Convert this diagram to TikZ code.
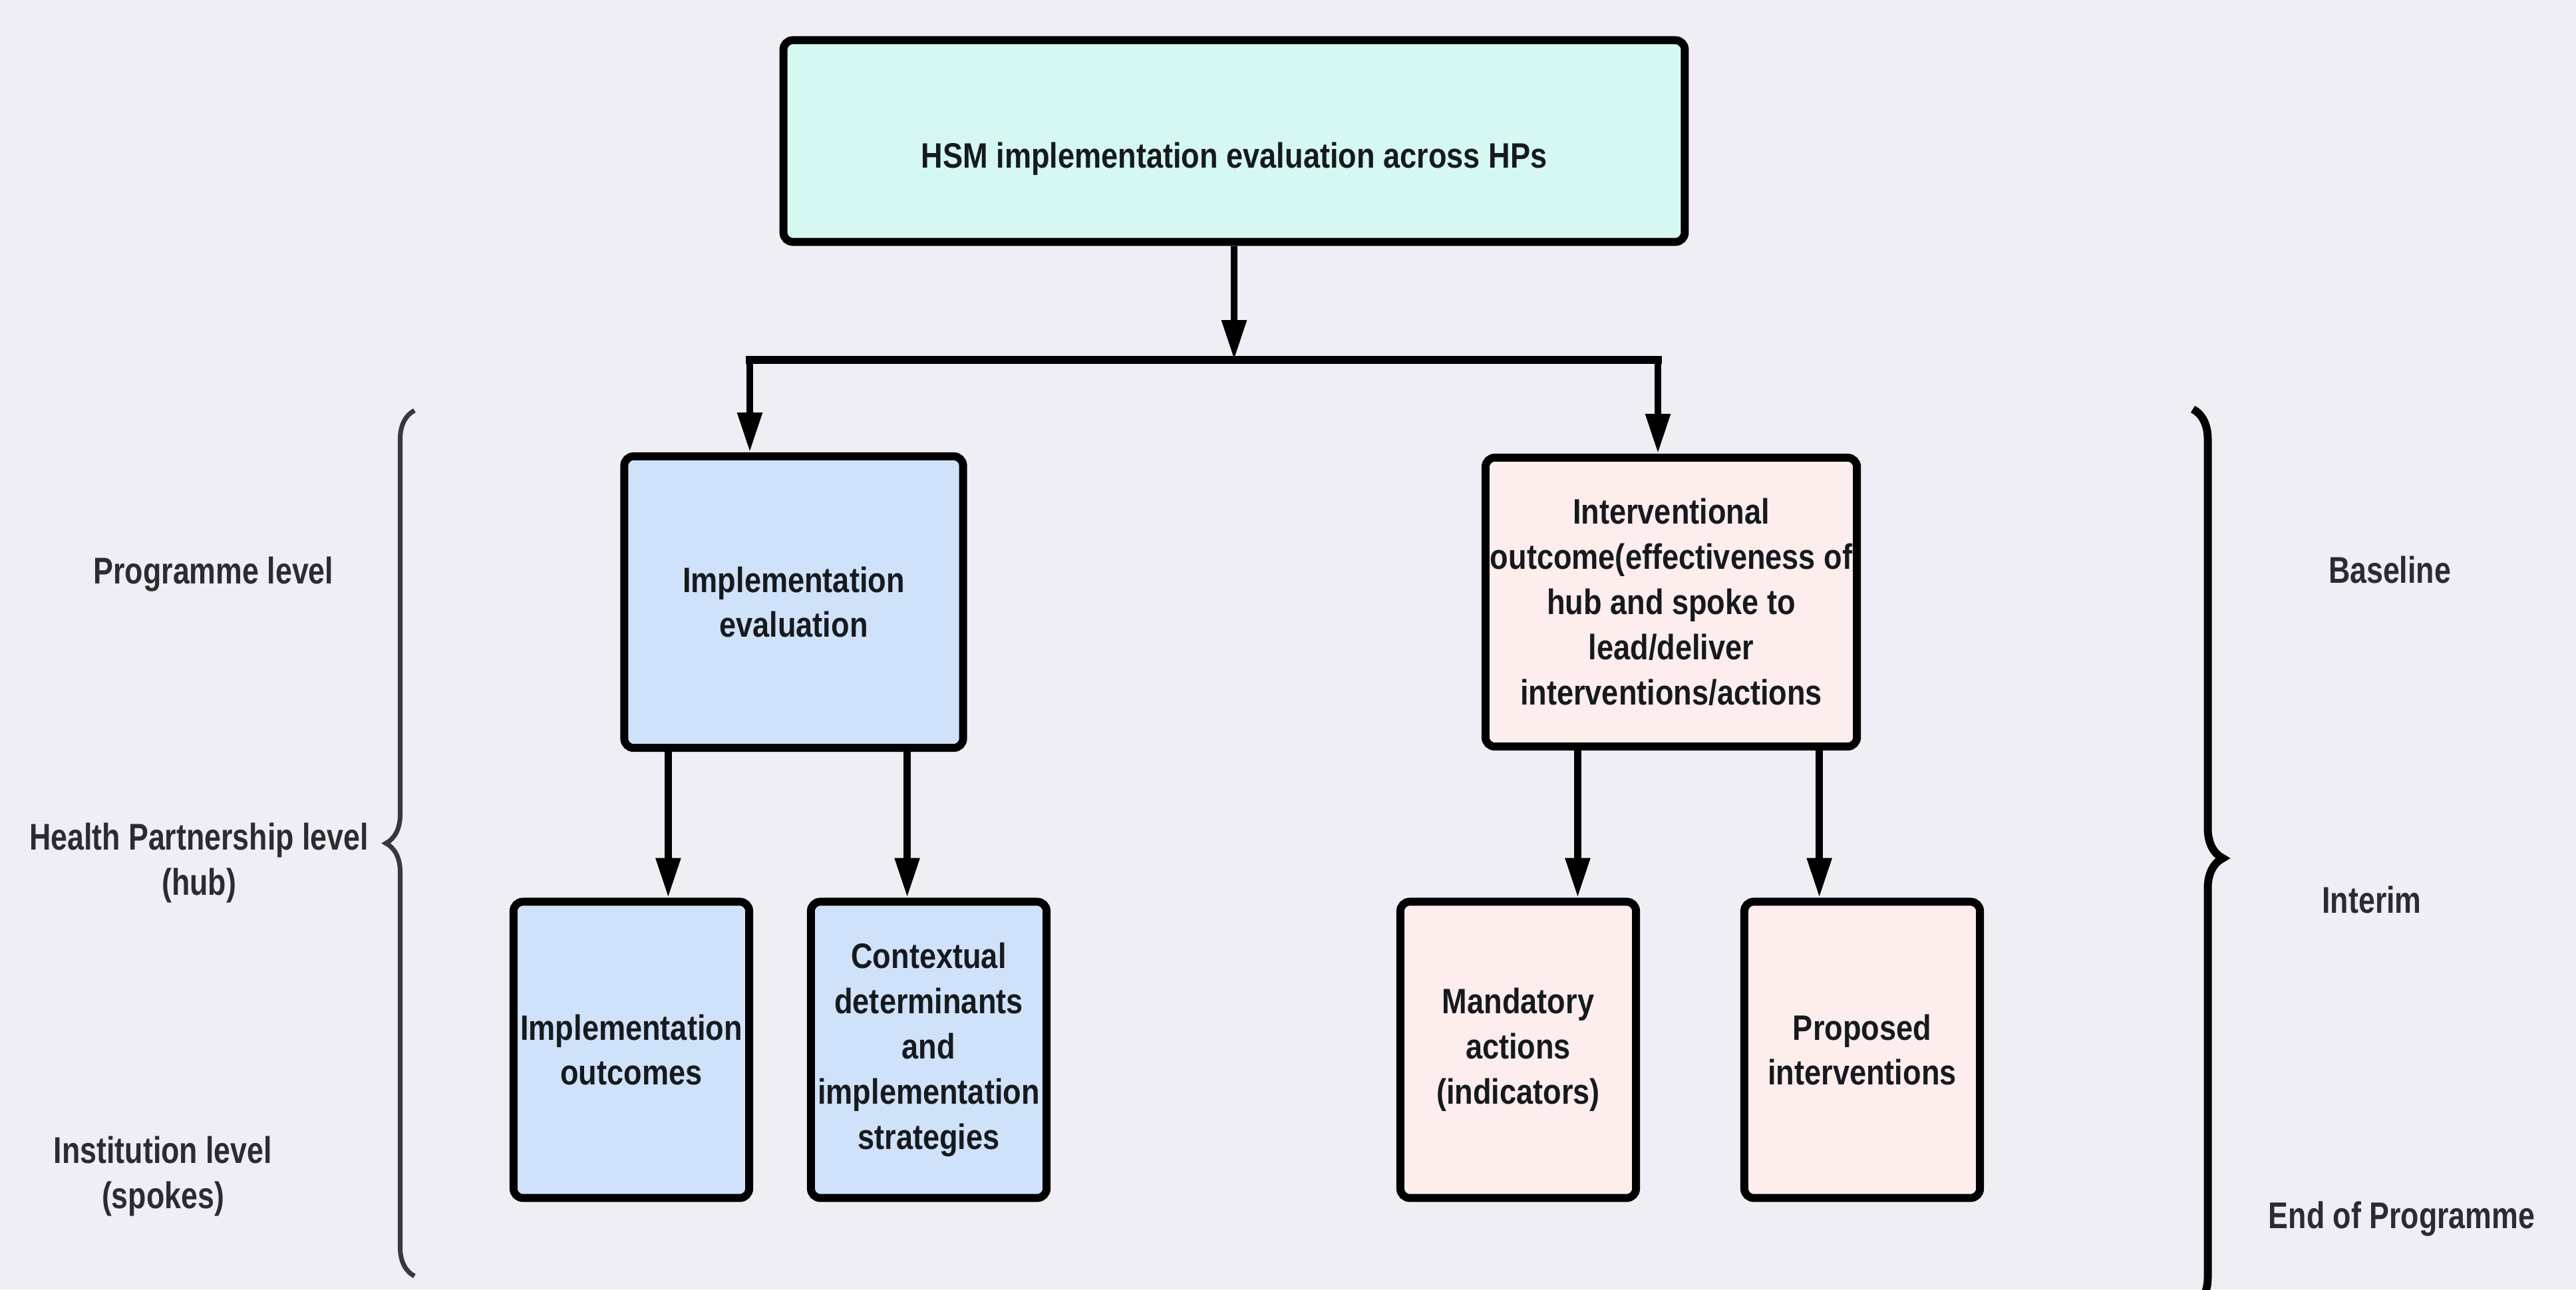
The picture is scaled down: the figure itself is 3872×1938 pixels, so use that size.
\documentclass[tikz,border=0pt]{standalone}
\usepackage{fontspec}
\setmainfont{Liberation Sans}
\newfontfamily\boxfont{Liberation Sans}[FakeStretch=0.85]
\newfontfamily\sidefont{Liberation Sans}[FakeStretch=0.80]
\usepackage{tikz}
\usetikzlibrary{positioning,arrows.meta,decorations.pathreplacing}
\definecolor{bgcol}{RGB}{238,238,244}
\definecolor{topfill}{RGB}{213,248,242}
\definecolor{evalfill}{RGB}{207,226,250}
\definecolor{outfill}{RGB}{253,238,237}
\definecolor{boxtext}{RGB}{22,26,30}
\definecolor{sidetext}{RGB}{42,44,50}
\definecolor{bracegray}{RGB}{55,56,62}
\tikzset{
  hsm/.style={draw=black,line width=3.4pt,rounded corners=4pt,align=center,
            inner sep=2pt,text=boxtext,
            font=\boxfont\bfseries\fontsize{15.1pt}{19.3pt}\selectfont},
  hsmtop/.style={hsm,fill=topfill,minimum width=13.54cm,minimum height=3.03cm,
            text height=0.91cm,text depth=0.1cm},
  hsmeval/.style={hsm,fill=evalfill},
  hsmout/.style={hsm,fill=outfill},
  hsmleaf/.style={minimum width=3.54cm,minimum height=4.45cm},
  side/.style={align=center,text=sidetext,inner sep=0pt,
            font=\sidefont\bfseries\fontsize{15.9pt}{19.3pt}\selectfont},
  arr/.style={-{Triangle[length=17pt,width=10pt]},line width=3.1pt},
  bar/.style={line width=3.6pt,line cap=rect},
  lbrace/.style={decorate,decoration={brace,amplitude=0.43cm},
            line width=2pt,draw=bracegray},
  rbrace/.style={decorate,decoration={brace,amplitude=0.45cm},
            line width=3.4pt,draw=black},
}

\begin{document}
\begin{tikzpicture}[x=0.01cm,y=-0.01cm]
  \useasboundingbox (0,0) rectangle (3872,1938);
  \fill[bgcol] (0,0) rectangle (3872,1938);

  % boxes
  \node[hsmtop] (top) at (1855,212) {HSM implementation evaluation across HPs};
  \node[hsmeval,minimum width=5.09cm,minimum height=4.38cm]
        (impleval) at (1193,905) {Implementation\\evaluation};
  \node[hsmout,minimum width=5.57cm,minimum height=4.34cm]
        (intervout) at (2512,905) {Interventional\\outcome(effectiveness of\\hub and spoke to\\lead/deliver\\interventions/actions};
  \node[hsmeval,hsmleaf] (implout) at (949,1578) {Implementation\\outcomes};
  \node[hsmeval,hsmleaf] (context) at (1396,1578) {Contextual\\determinants\\and\\implementation\\strategies};
  \node[hsmout,hsmleaf] (mandact) at (2282,1578) {Mandatory\\actions\\(indicators)};
  \node[hsmout,hsmleaf] (propint) at (2799,1578) {Proposed\\interventions};

  % connectors
  \coordinate (split) at (1855,541);
  \coordinate (lsplit) at (1127,541);
  \coordinate (rsplit) at (2492,541);
  \draw[arr] (top) -- (split);
  \draw[bar] (lsplit) -- (rsplit);
  \draw[arr] (lsplit) -- (lsplit |- impleval.north);
  \draw[arr] (rsplit) -- (rsplit |- intervout.north);
  \coordinate (e1) at ([xshift=-1.885cm]impleval.south);
  \coordinate (e2) at ([xshift=1.705cm]impleval.south);
  \coordinate (o1) at ([xshift=-1.405cm]intervout.south);
  \coordinate (o2) at ([xshift=2.225cm]intervout.south);
  \draw[arr] (e1) -- (e1 |- implout.north);
  \draw[arr] (e2) -- (e2 |- context.north);
  \draw[arr] (o1) -- (o1 |- mandact.north);
  \draw[arr] (o2) -- (o2 |- propint.north);

  % levels and time points
  \node[side,anchor=base] (lprog) at (321,877) {Programme level};
  \node[side] (lhub) at (299,1297) {Health Partnership level\\(hub)};
  \node[side] (lspoke) at (245,1768) {Institution level\\(spokes)};
  \node[side,anchor=base] (rbase) at (3592,876) {Baseline};
  \node[side,anchor=base] (rinterim) at (3565,1372) {Interim};
  \node[side,anchor=base] (rend) at (3610,1846) {End of Programme};

  \begin{scope}
    \clip (0,0) rectangle (3872,1938);
    \draw[lbrace] (623,1918) -- (623,617);
    \draw[rbrace] (3296,615) -- (3296,1965);
  \end{scope}
\end{tikzpicture}
\end{document}
